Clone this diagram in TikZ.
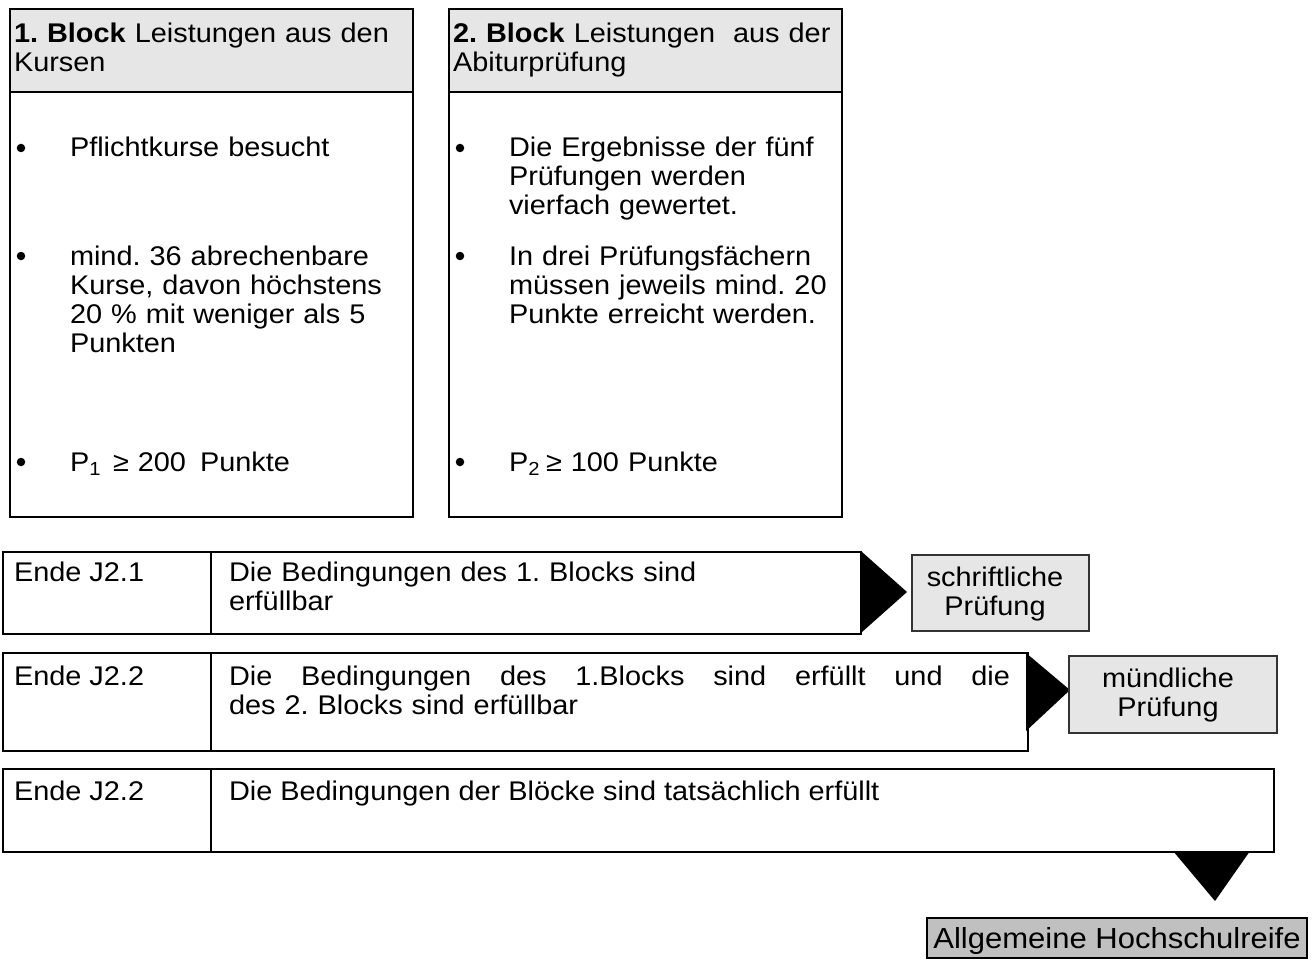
\documentclass[tikz,border=0pt]{standalone}
\usepackage{fontspec}
\setmainfont{Liberation Sans}[FakeStretch=1.07]
\definecolor{hdrgray}{HTML}{E6E6E6}
\definecolor{endgray}{HTML}{C0C0C0}
\frenchspacing
\begin{document}
\begin{tikzpicture}[x=1pt,y=-1pt,
  every node/.style={inner sep=0pt,outer sep=0pt},
  txt/.style={anchor=base west,font=\fontsize{27}{29}\selectfont},
  par/.style={txt,text width=#1,align=left},
  ctr/.style={anchor=base,font=\fontsize{27}{29}\selectfont,text width=#1,align=center},
  dot/.style={circle,fill=black,minimum size=8.5pt},
  frame/.style={draw,line width=1.2pt,anchor=north west},
  hdrbox/.style={frame,fill=hdrgray},
  exam/.style={draw=black!80,line width=1.2pt,fill=hdrgray,anchor=north west},
  finalbox/.style={draw,line width=1.6pt,fill=endgray,anchor=north west},
  tri/.style={fill=black}]
\useasboundingbox (0,0) rectangle (1313,960);

% ---- Block 1
\node[frame,minimum width=403pt,minimum height=508pt] (b1) at (10,9) {};
\node[hdrbox,minimum width=403pt,minimum height=83pt] (h1) at (10,9) {};
\node[par=395pt] (h1t) at (14,43) {\textbf{1. Block} Leistungen aus den\\Kursen};
\node[dot] (b1d1) at (21,148) {};
\node[par=335pt] (b1t1) at (70,157) {Pflichtkurse besucht};
\node[dot] (b1d2) at (21,256) {};
\node[par=335pt] (b1t2) at (70,265) {mind. 36 abrechenbare\\Kurse, davon höchstens\\20 \% mit weniger als 5\\Punkten};
\node[dot] (b1d3) at (21,462) {};
\node[par=335pt] (b1t3) at (70,471) {P\textsubscript{1}\hspace{12pt}≥ 200\hspace{14pt}Punkte};

% ---- Block 2
\node[frame,minimum width=393pt,minimum height=508pt] (b2) at (449,9) {};
\node[hdrbox,minimum width=393pt,minimum height=83pt] (h2) at (449,9) {};
\node[par=390pt] (h2t) at (453,43) {\textbf{2. Block} Leistungen\ \ aus der\\Abiturprüfung};
\node[dot] (b2d1) at (460,148) {};
\node[par=330pt] (b2t1) at (509,157) {Die Ergebnisse der fünf\\Prüfungen werden\\vierfach gewertet.};
\node[dot] (b2d2) at (460,256) {};
\node[par=330pt] (b2t2) at (509,265) {In drei Prüfungsfächern\\müssen jeweils mind. 20\\Punkte erreicht werden.};
\node[dot] (b2d3) at (460,462) {};
\node[par=330pt] (b2t3) at (509,471) {P\textsubscript{2}\hspace{6pt}≥ 100 Punkte};

% ---- Row 1
\node[frame,minimum width=858pt,minimum height=82pt] (r1) at (3,552) {};
\draw[line width=1.2pt] (r1.north west -| 211,0) -- (r1.south west -| 211,0);
\node[txt] (r1a) at (14,581) {Ende J2.1};
\node[par=620pt] (r1b) at (229,581) {Die Bedingungen des 1. Blocks sind\\erfüllbar};
\fill[tri] (862,552) -- (907,592) -- (862,632) -- cycle;
\node[exam,minimum width=177pt,minimum height=76pt] (e1) at (912,555) {};
\node[ctr=177pt] (e1t) at (995,586) {schriftliche\\Prüfung};

% ---- Row 2
\node[frame,minimum width=1025pt,minimum height=98pt] (r2) at (3,653) {};
\draw[line width=1.2pt] (r2.north west -| 211,0) -- (r2.south west -| 211,0);
\node[txt] (r2a) at (14,685) {Ende J2.2};
\node[par=800pt] (r2b) at (229,685) {\hbox to 781pt{Die\hfill Bedingungen\hfill des\hfill 1.Blocks\hfill sind\hfill erfüllt\hfill und\hfill die}\\des 2. Blocks sind erfüllbar};
\fill[tri] (1026,653) -- (1070,690) -- (1026,731) -- cycle;
\node[exam,minimum width=208pt,minimum height=77pt] (e2) at (1069,656) {};
\node[ctr=208pt] (e2t) at (1168,687) {mündliche\\Prüfung};

% ---- Row 3
\node[frame,minimum width=1271pt,minimum height=83pt] (r3) at (3,769) {};
\draw[line width=1.2pt] (r3.north west -| 211,0) -- (r3.south west -| 211,0);
\node[txt] (r3a) at (14,800) {Ende J2.2};
\node[txt] (r3b) at (229,800) {Die Bedingungen der Blöcke sind tatsächlich erfüllt};
\fill[tri] (1173,851) -- (1250,851) -- (1215,901) -- cycle;

% ---- Final
\node[finalbox,minimum width=380pt,minimum height=40pt] (fin) at (927,918) {};
\node[anchor=base,font=\fontsize{29}{30}\selectfont] (fint) at (fin.north |- 0,948) {Allgemeine Hochschulreife};
\end{tikzpicture}
\end{document}
